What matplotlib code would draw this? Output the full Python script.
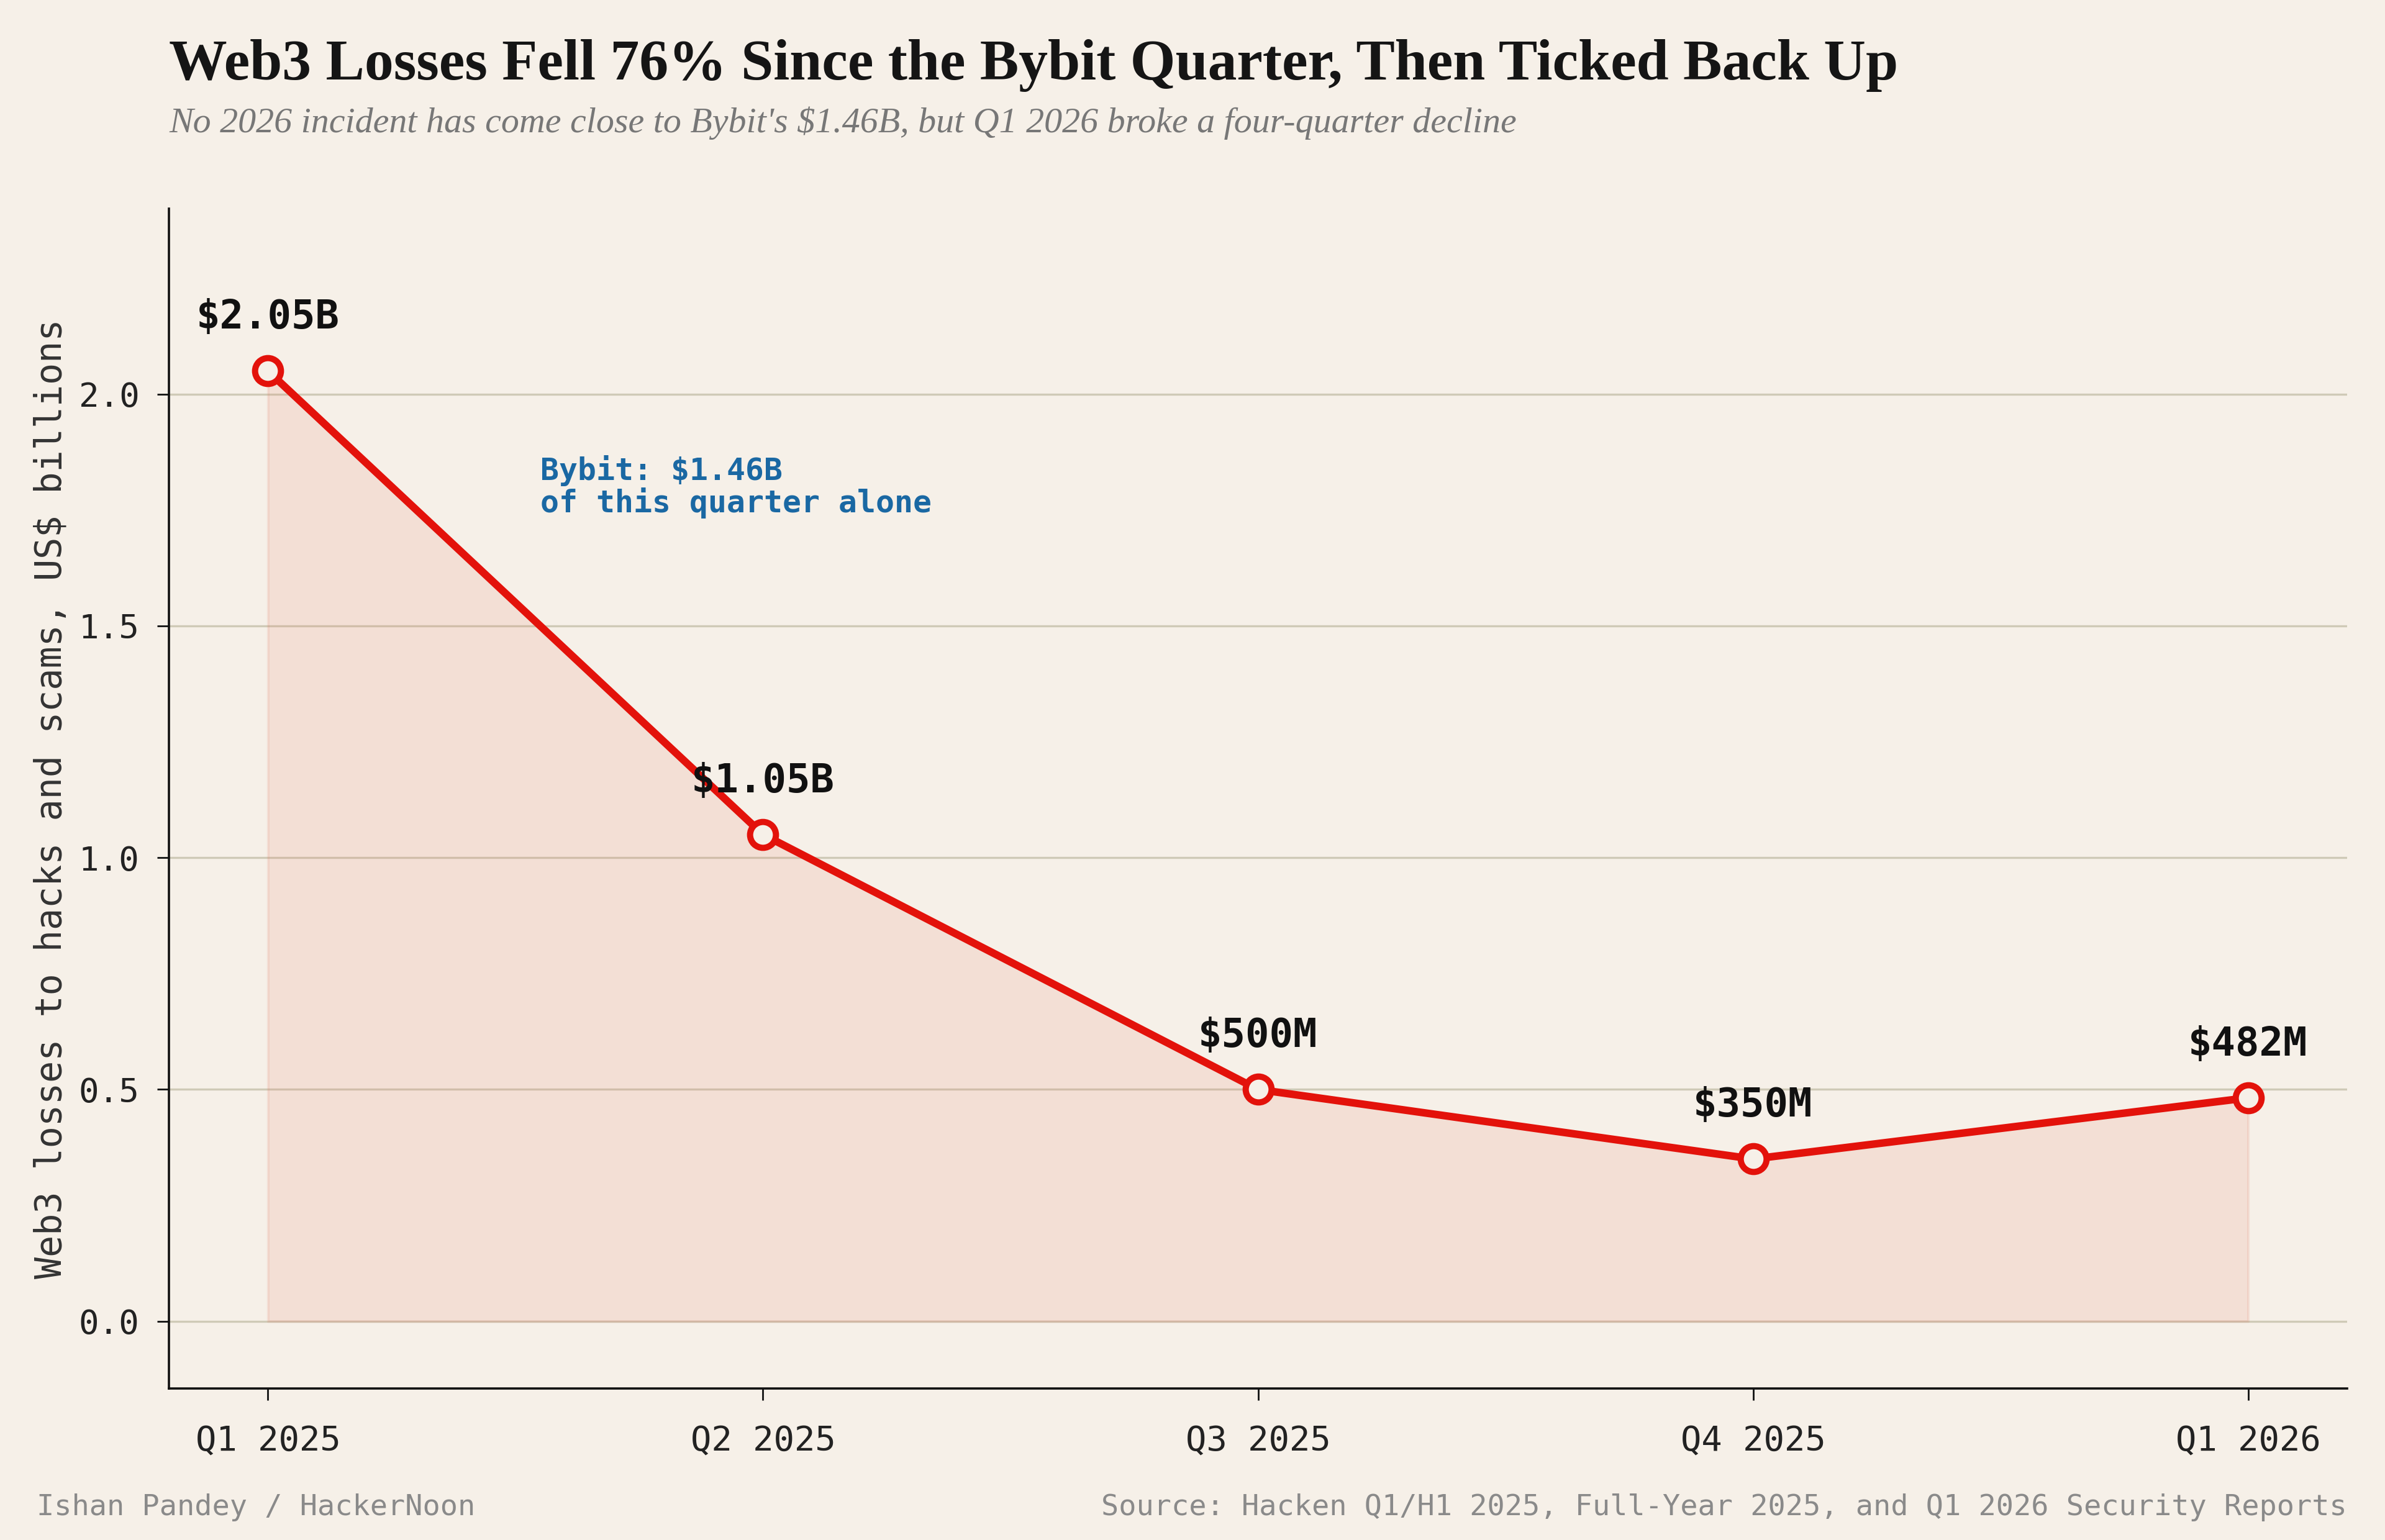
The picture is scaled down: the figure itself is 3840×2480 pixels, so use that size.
import numpy as np
import matplotlib
matplotlib.use('Agg')
import matplotlib.pyplot as plt

# data
quarters = ['Q1 2025', 'Q2 2025', 'Q3 2025', 'Q4 2025', 'Q1 2026']
losses = [2.05, 1.05, 0.50, 0.35, 0.482]
point_labels = ['$2.05B', '$1.05B', '$500M', '$350M', '$482M']
yticks = [0.0, 0.5, 1.0, 1.5, 2.0]

bg = '#f6f0e8'
red = '#e3120b'
blue = '#1a68a3'
mono = ['DejaVu Sans Mono']
serif = ['Liberation Serif', 'DejaVu Serif']

fig = plt.figure(figsize=(19.2, 12.4), dpi=200)
fig.patch.set_facecolor(bg)
ax = fig.add_axes([272/3840, 1-2236/2480, (3779-272)/3840, (2236-336)/2480])
ax.set_facecolor(bg)

x = np.arange(len(quarters))
ax.fill_between(x, 0, losses, color='#e06a50', alpha=0.12, lw=1.5, zorder=2)
ax.plot(x, losses, color=red, lw=4.4, marker='o', ms=15, mfc=bg,
        mec=red, mew=3.6, zorder=4, solid_capstyle='round')

for xi, yi, lab in zip(x, losses, point_labels):
    ax.annotate(lab, (xi, yi), xytext=(0, 31), textcoords='offset points',
                ha='center', va='center', fontsize=23, fontweight='bold',
                family=mono, color='#111111', zorder=5)

ax.text(0.55, 1.80, 'Bybit: $1.46B\nof this quarter alone', color=blue,
        fontsize=17.9, fontweight='bold', family=mono, va='center', ha='left',
        linespacing=1.05)

ax.set_xlim(-0.2, 4.2)
ax.set_ylim(-0.145, 2.4)
ax.set_xticks(x)
ax.set_xticklabels(quarters, family=mono, fontsize=20)
ax.set_yticks(yticks)
ax.set_yticklabels([f'{t:.1f}' for t in yticks], family=mono, fontsize=19.5)
ax.tick_params(axis='both', length=7, width=1.0, color='#111111', labelcolor='#222222')
ax.tick_params(axis='x', pad=14)
ax.tick_params(axis='y', pad=10)
ax.grid(axis='y', color='#cfcab7', lw=1.2, zorder=1)
ax.set_axisbelow(True)
for s in ['top', 'right']:
    ax.spines[s].set_visible(False)
for s in ['left', 'bottom']:
    ax.spines[s].set_linewidth(1.3)
    ax.spines[s].set_color('#111111')

ax.set_ylabel('Web3 losses to hacks and scams, US$ billions', family=mono,
              fontsize=21, color='#333333', labelpad=6)

fig.text(272/3840, 1-105/2480, 'Web3 Losses Fell 76% Since the Bybit Quarter, Then Ticked Back Up',
         family=serif, fontweight='bold', fontsize=33.7, color='#151515', va='center', ha='left')
fig.text(272/3840, 1-198/2480, "No 2026 incident has come close to Bybit's $1.46B, but Q1 2026 broke a four-quarter decline",
         family=serif, style='italic', fontsize=20.9, color='#777777', va='center', ha='left')

fig.text(59/3840, 1-2427/2480, 'Ishan Pandey / HackerNoon', family=mono, fontsize=16.9,
         color='#8a8a8a', va='center', ha='left')
fig.text(3779/3840, 1-2427/2480, 'Source: Hacken Q1/H1 2025, Full-Year 2025, and Q1 2026 Security Reports',
         family=mono, fontsize=16.9, color='#8a8a8a', va='center', ha='right')

fig.savefig('out.png', dpi=200, facecolor=bg)
